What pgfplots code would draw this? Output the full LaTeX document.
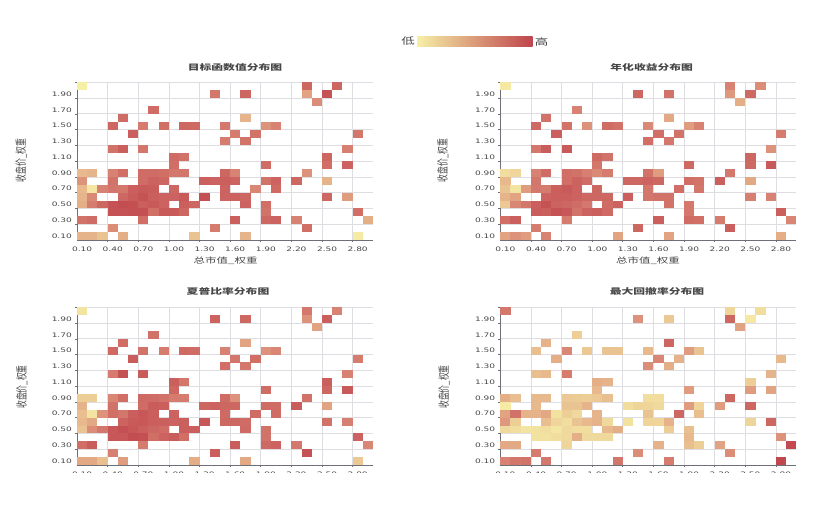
\documentclass[border=0pt]{standalone}
\usepackage{fontspec}
\usepackage{graphicx}
\usepackage{pgfplots}
\usepackage{pgfplotstable}
\pgfplotsset{compat=1.18}
\setmainfont{DejaVu Sans}
\newfontfamily\cjk{Noto Sans CJK SC}

\definecolor{low}{RGB}{246,239,166}
\definecolor{mid}{RGB}{216,130,115}
\definecolor{high}{RGB}{191,68,76}
\definecolor{txt}{RGB}{70,70,70}
\definecolor{gridc}{RGB}{222,222,226}
\definecolor{axisc}{RGB}{110,112,121}

% source image is squashed vertically, so all text is too
\newcommand{\sq}[1]{\scalebox{1}[0.68]{#1}}
\newcommand{\ylab}[1]{\scalebox{1}[0.68]{\rotatebox{90}{\fontsize{11.5pt}{12pt}\selectfont\cjk #1}}}
\newcommand{\cjklab}[1]{\scalebox{1}[0.68]{\fontsize{11.5pt}{12pt}\selectfont\cjk #1}}
\newcommand{\cjktitle}[1]{\scalebox{1}[0.68]{\fontsize{11.8pt}{12pt}\selectfont\cjk\bfseries #1}}

\pgfdeclareplotmark{cell}{%
  \pgfpathrectangle{\pgfpoint{-5.13pt}{-3.97pt}}{\pgfpoint{10.26pt}{7.94pt}}%
  \pgfusepathqfill}

% i = x category index (0.10 ...), j = y category index (0.10 ...)
% a = objective, b = annual return, c = sharpe, d = max drawdown
\pgfplotstableread{
i j a b c d
0 19 .00 .03 .05 .58
22 19 .72 .50 .58 .12
25 19 .72 .45 .50 .08
13 18 .60 .72 .75 .42
16 18 .72 .62 .72 .18
22 18 .35 .40 .42 .72
24 18 .88 .70 .78 .03
23 17 .45 .30 .35 .35
7 16 .68 .50 .62 .15
4 15 .68 .62 .65 .28
16 15 .27 .32 .35 .72
3 14 .72 .70 .70 .22
6 14 .55 .62 .62 .48
8 14 .65 .42 .55 .18
10 14 .72 .68 .70 .20
11 14 .70 .62 .68 .20
14 14 .58 .47 .50 .25
18 14 .42 .38 .42 .38
19 14 .50 .50 .48 .20
5 13 .78 .78 .80 .30
15 13 .55 .65 .60 .48
17 13 .62 .62 .65 .28
27 13 .60 .55 .55 .25
14 12 .55 .65 .65 .45
16 12 .62 .58 .58 .30
3 11 .62 .58 .55 .22
4 11 .78 .80 .88 .25
6 11 .60 .82 .80 .55
26 11 .52 .42 .50 .27
9 10 .68 .70 .78 .30
10 10 .62 .62 .60 .28
24 10 .72 .72 .78 .15
9 9 .65 .60 .72 .25
18 9 .68 .70 .68 .38
24 9 .65 .70 .72 .38
26 9 .75 .82 .82 .35
0 8 .25 .08 .15 .30
1 8 .27 .12 .15 .22
3 8 .50 .50 .48 .25
4 8 .65 .68 .65 .25
6 8 .68 .65 .70 .18
7 8 .68 .62 .68 .16
8 8 .65 .52 .62 .15
9 8 .58 .47 .55 .18
10 8 .60 .55 .55 .22
14 8 .72 .62 .68 .08
15 8 .50 .38 .42 .08
22 8 .42 .58 .62 .72
0 7 .42 .25 .28 .02
3 7 .62 .60 .62 .25
6 7 .68 .65 .68 .20
7 7 .75 .75 .80 .20
8 7 .72 .68 .78 .27
12 7 .78 .72 .72 .08
13 7 .75 .72 .75 .12
14 7 .78 .75 .72 .12
15 7 .75 .72 .72 .10
18 7 .62 .65 .68 .38
19 7 .75 .62 .68 .12
21 7 .72 .78 .80 .38
24 7 .27 .32 .35 .72
0 6 .25 .20 .22 .35
1 6 .04 .05 .05 .62
2 6 .50 .38 .42 .28
3 6 .60 .58 .65 .28
4 6 .58 .55 .60 .33
5 6 .78 .78 .78 .06
6 6 .82 .82 .85 .15
7 6 .80 .75 .78 .10
9 6 .72 .72 .75 .27
14 6 .75 .60 .70 .20
17 6 .48 .65 .68 .72
19 6 .70 .60 .68 .22
0 5 .27 .27 .25 .40
1 5 .47 .35 .32 .15
4 5 .72 .75 .75 .22
5 5 .80 .78 .82 .12
6 5 .88 .78 .85 .08
7 5 .78 .75 .78 .20
8 5 .75 .72 .78 .25
9 5 .75 .72 .75 .28
10 5 .82 .72 .78 .10
12 5 .90 .78 .85 .06
14 5 .75 .60 .72 .12
15 5 .75 .62 .72 .12
16 5 .72 .62 .68 .28
24 5 .72 .52 .62 .12
26 5 .38 .50 .52 .72
0 4 .30 .18 .20 .10
1 4 .55 .48 .45 .08
2 4 .72 .60 .58 .05
3 4 .88 .78 .85 .06
4 4 .92 .88 .90 .08
5 4 .90 .75 .85 .04
6 4 .78 .72 .78 .10
7 4 .82 .68 .72 .08
8 4 .76 .58 .68 .08
10 4 .78 .68 .78 .25
11 4 .72 .75 .78 .30
16 4 .75 .62 .70 .15
18 4 .65 .58 .62 .22
3 3 .88 .80 .85 .06
4 3 .88 .78 .85 .06
5 3 .90 .88 .92 .08
6 3 .90 .85 .90 .10
7 3 .65 .62 .65 .30
8 3 .82 .75 .75 .10
9 3 .82 .78 .80 .10
10 3 .72 .70 .65 .10
18 3 .62 .58 .62 .25
27 3 .65 .78 .75 .42
0 2 .62 .65 .65 .32
1 2 .68 .78 .80 .32
6 2 .65 .55 .55 .12
15 2 .78 .78 .80 .28
18 2 .72 .68 .70 .22
19 2 .75 .65 .75 .15
21 2 .50 .55 .58 .35
28 2 .30 .48 .48 .95
3 1 .45 .55 .52 .55
13 1 .55 .72 .78 .45
22 1 .65 .78 .88 .45
0 0 .27 .35 .32 .50
1 0 .27 .42 .32 .60
2 0 .20 .38 .22 .62
4 0 .30 .50 .38 .58
11 0 .20 .35 .30 .60
16 0 .27 .35 .32 .55
27 0 .02 .30 .18 .98
}\cells

\pgfplotsset{
  hm/.style={
    scale only axis,
    anchor=south west,
    width=296pt,
    height=157.7pt,
    xmin=-0.5, xmax=28.5,
    ymin=-0.5, ymax=19.5,
    axis x line*=bottom,
    axis y line*=left,
    axis line style={draw=axisc, line width=0.9pt, -},
    xtick={0,3,...,27},
    xticklabels={\sq{0.10},\sq{0.40},\sq{0.70},\sq{1.00},\sq{1.30},\sq{1.60},\sq{1.90},\sq{2.20},\sq{2.50},\sq{2.80}},
    ytick={0,2,...,18},
    yticklabels={\sq{0.10},\sq{0.30},\sq{0.50},\sq{0.70},\sq{0.90},\sq{1.10},\sq{1.30},\sq{1.50},\sq{1.70},\sq{1.90}},
    minor xtick={2.5,5.5,...,26.5},
    minor ytick={1.5,3.5,...,19.5},
    minor grid style={draw=gridc, line width=0.7pt},
    xminorgrids=true,
    yminorgrids=true,
    major tick length=0pt,
    minor tick length=2pt,
    tick align=outside,
    tick style={draw=axisc, line width=0.6pt},
    tick label style={font=\fontsize{9pt}{10pt}\selectfont, text=txt},
    xticklabel style={inner sep=0pt, yshift=-7pt},
    yticklabel style={inner sep=0pt, xshift=-5pt},
    colormap={redyel}{rgb255=(246,239,166) rgb255=(216,130,115) rgb255=(191,68,76)},
    point meta min=0, point meta max=1,
    clip=false,
  },
  cells/.style={scatter, only marks, mark=cell, point meta=\thisrow{#1}},
}

\begin{document}
\begin{tikzpicture}
\path[use as bounding box] (0pt,0pt) rectangle (822pt,507pt);

\begin{axis}[hm, at={(77pt,267pt)}]
  \addplot[cells=a] table[x=i,y=j] {\cells};
\end{axis}
\begin{axis}[hm, at={(500.3pt,267pt)}]
  \addplot[cells=b] table[x=i,y=j] {\cells};
\end{axis}
\begin{axis}[hm, at={(77pt,42pt)}]
  \addplot[cells=c] table[x=i,y=j] {\cells};
\end{axis}
\begin{axis}[hm, at={(500.3pt,42pt)}]
  \addplot[cells=d] table[x=i,y=j] {\cells};
\end{axis}

% the reference is cut off through the lower tick labels
\fill[white] (0pt,0pt) rectangle (822pt,34pt);

\begin{scope}[every node/.style={inner sep=0pt, text=txt}]
  \node at (235pt,440pt) {\cjktitle{目标函数值分布图}};
  \node at (651.7pt,440pt) {\cjktitle{年化收益分布图}};
  \node at (228pt,215.3pt) {\cjktitle{夏普比率分布图}};
  \node at (657pt,215.3pt) {\cjktitle{最大回撤率分布图}};

  \node at (225.7pt,246pt) {\cjklab{总市值\_权重}};
  \node at (648pt,246pt) {\cjklab{总市值\_权重}};

  \node at (21pt,346.3pt) {\ylab{收盘价\_权重}};
  \node at (442.7pt,346.3pt) {\ylab{收盘价\_权重}};
  \node at (21.7pt,120pt) {\ylab{收盘价\_权重}};
  \node at (444pt,120pt) {\ylab{收盘价\_权重}};

  \node at (408pt,465.5pt) {\scalebox{1}[0.68]{\fontsize{13.5pt}{14pt}\selectfont\cjk 低}};
  \node at (541.7pt,465.5pt) {\scalebox{1}[0.68]{\fontsize{13.5pt}{14pt}\selectfont\cjk 高}};
\end{scope}
\shade[left color=low, middle color=mid, right color=high]
  (417.3pt,460.3pt) rectangle (532.7pt,470pt);
\end{tikzpicture}
\end{document}
